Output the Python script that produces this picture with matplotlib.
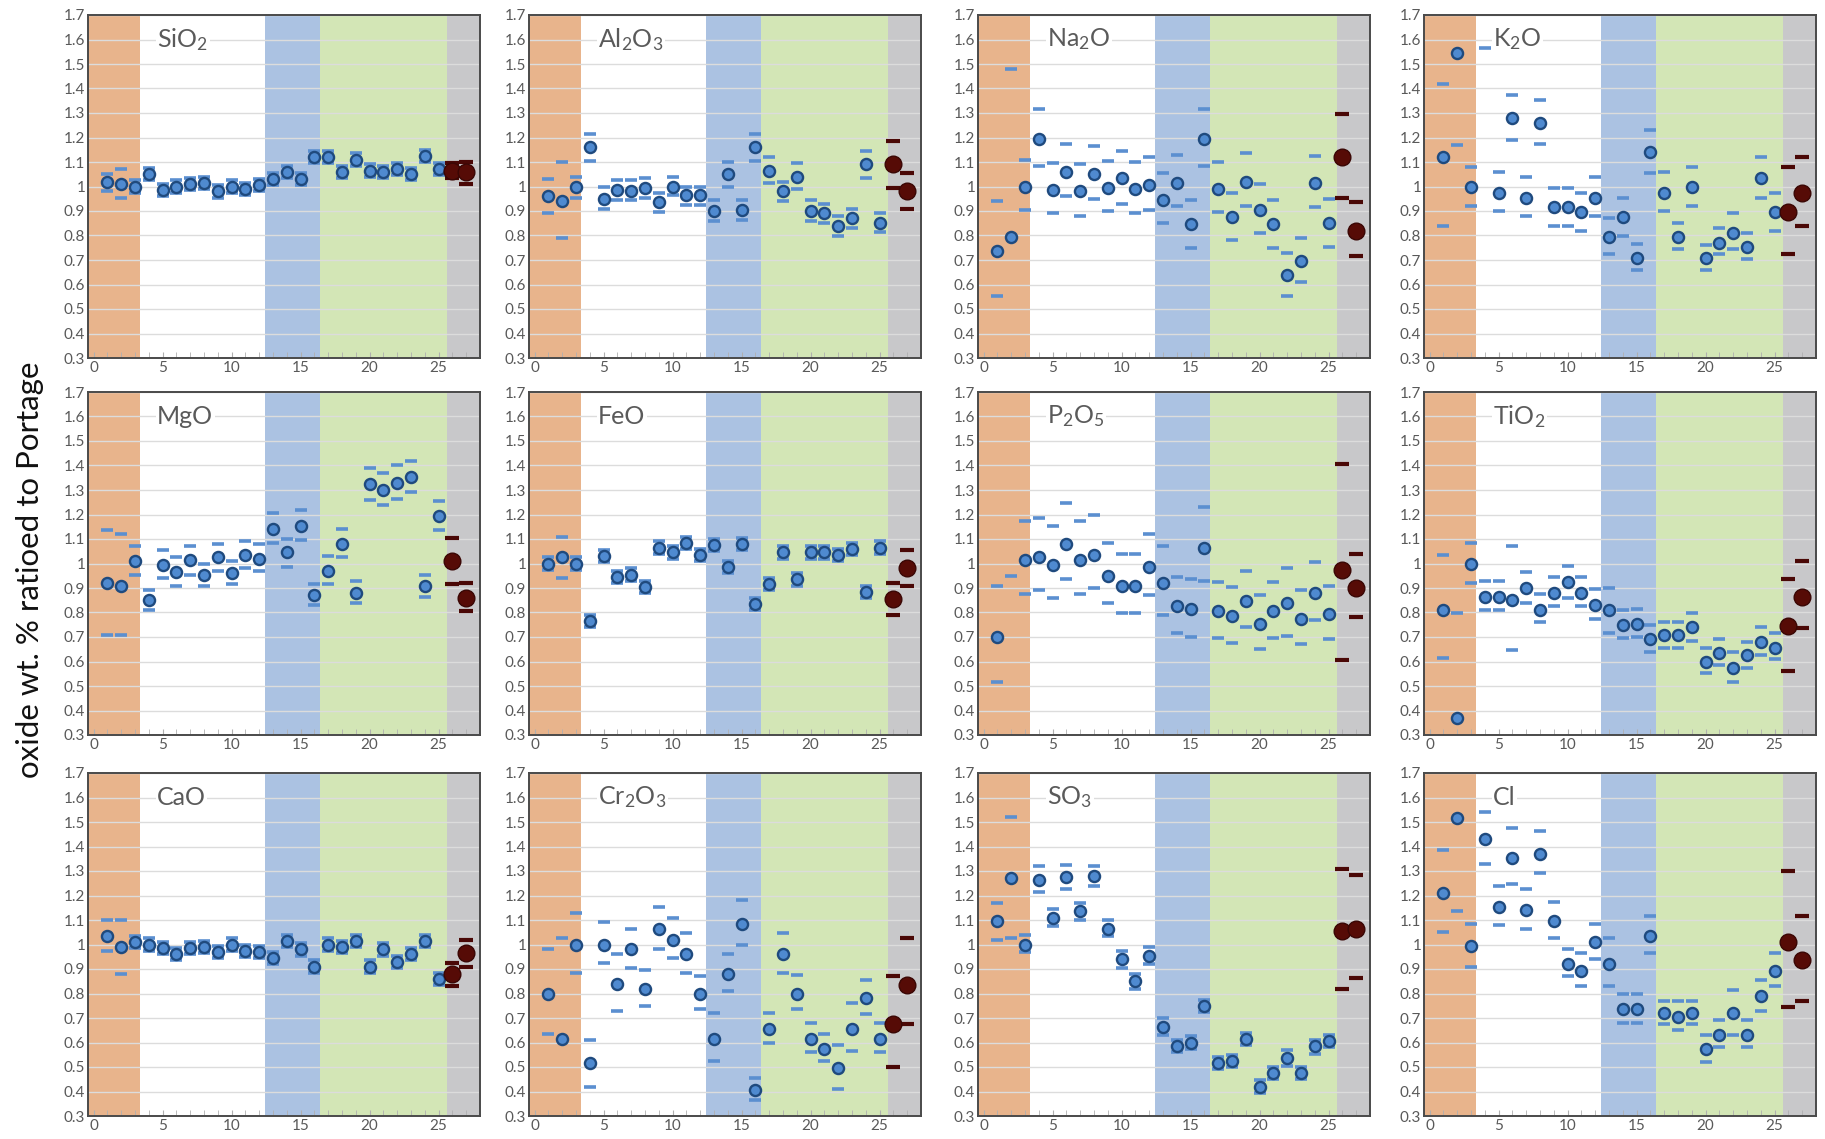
import numpy as np
import matplotlib
matplotlib.use("Agg")
import matplotlib.pyplot as plt
from matplotlib.ticker import FuncFormatter, MultipleLocator

# sample numbers 1..25 are blue, 26 and 27 are the dark red reference samples
SAMPLES = list(range(1, 28))

SIO2_VAL = [1.02, 1.01, 1.00, 1.05, 0.985, 1.00, 1.01, 1.015, 0.98, 1.00, 0.99, 1.005, 1.03, 1.06, 1.03,
            1.12, 1.12, 1.06, 1.11, 1.065, 1.06, 1.07, 1.05, 1.125, 1.07, 1.065, 1.06]
SIO2_HI = [1.05, 1.07, 1.025, 1.075, 1.01, 1.025, 1.035, 1.04, 1.005, 1.025, 1.015, 1.03, 1.055, 1.085, 1.055,
           1.145, 1.145, 1.085, 1.135, 1.09, 1.085, 1.095, 1.075, 1.15, 1.095, 1.095, 1.10]
SIO2_LO = [0.98, 0.955, 0.975, 1.025, 0.96, 0.975, 0.985, 0.99, 0.955, 0.975, 0.965, 0.98, 1.005, 1.035, 1.005,
           1.095, 1.095, 1.035, 1.085, 1.04, 1.035, 1.045, 1.025, 1.10, 1.045, 1.035, 1.01]

AL2O3_VAL = [0.96, 0.94, 1.0, 1.16, 0.95, 0.985, 0.98, 0.995, 0.935, 1.0, 0.965, 0.965, 0.90, 1.05, 0.905,
             1.16, 1.065, 0.98, 1.04, 0.90, 0.89, 0.84, 0.87, 1.09, 0.85, 1.09, 0.98]
AL2O3_HI = [1.03, 1.10, 1.04, 1.215, 1.0, 1.025, 1.025, 1.035, 0.975, 1.04, 1.0, 1.0, 0.945, 1.10, 0.945,
            1.215, 1.12, 1.02, 1.095, 0.945, 0.93, 0.88, 0.91, 1.145, 0.89, 1.185, 1.055]
AL2O3_LO = [0.89, 0.79, 0.955, 1.105, 0.91, 0.945, 0.945, 0.955, 0.895, 0.965, 0.925, 0.925, 0.86, 1.0, 0.865,
            1.105, 1.015, 0.94, 0.99, 0.86, 0.85, 0.80, 0.83, 1.035, 0.815, 0.995, 0.91]

NA2O_VAL = [0.735, 0.795, 1.0, 1.195, 0.985, 1.06, 0.98, 1.05, 0.995, 1.035, 0.99, 1.005, 0.945, 1.015, 0.845,
            1.195, 0.99, 0.875, 1.02, 0.905, 0.845, 0.64, 0.695, 1.015, 0.85, 1.12, 0.82]
NA2O_HI = [0.94, 1.48, 1.11, 1.315, 1.095, 1.175, 1.09, 1.165, 1.105, 1.145, 1.10, 1.12, 1.055, 1.13, 0.945,
           1.315, 1.10, 0.975, 1.135, 1.01, 0.945, 0.73, 0.79, 1.125, 0.95, 1.295, 0.935]
NA2O_LO = [0.555, None, 0.905, 1.085, 0.89, 0.96, 0.88, 0.95, 0.90, 0.93, 0.89, 0.905, 0.85, 0.92, 0.75,
           1.085, 0.895, 0.78, 0.92, 0.81, 0.75, 0.555, 0.61, 0.915, 0.755, 0.955, 0.715]

K2O_VAL = [1.12, 1.545, 1.0, None, 0.975, 1.28, 0.955, 1.26, 0.915, 0.915, 0.895, 0.955, 0.795, 0.875, 0.71,
           1.14, 0.975, 0.795, 1.0, 0.71, 0.77, 0.81, 0.755, 1.035, 0.895, 0.895, 0.975]
K2O_HI = [1.42, None, 1.08, 1.565, 1.06, 1.375, 1.04, 1.355, 0.995, 0.995, 0.975, 1.04, 0.87, 0.955, 0.765,
          1.23, 1.06, 0.85, 1.08, 0.76, 0.83, 0.89, 0.81, 1.12, 0.975, 1.08, 1.12]
K2O_LO = [0.84, 1.17, 0.92, None, 0.90, 1.19, 0.88, 1.175, 0.84, 0.84, 0.82, 0.88, 0.725, 0.80, 0.66,
          1.055, 0.90, 0.745, 0.92, 0.66, 0.725, 0.745, 0.705, 0.955, 0.82, 0.725, 0.84]

MGO_VAL = [0.92, 0.91, 1.01, 0.85, 0.995, 0.965, 1.015, 0.955, 1.025, 0.96, 1.035, 1.02, 1.14, 1.045, 1.155,
           0.87, 0.97, 1.08, 0.88, 1.325, 1.30, 1.33, 1.355, 0.91, 1.195, 1.01, 0.86]
MGO_HI = [1.135, 1.12, 1.07, 0.89, 1.055, 1.025, 1.07, 1.0, 1.08, 1.01, 1.09, 1.08, 1.205, 1.10, 1.22,
          0.915, 1.03, 1.14, 0.93, 1.39, 1.37, 1.40, 1.42, 0.955, 1.255, 1.105, 0.92]
MGO_LO = [0.71, 0.71, 0.955, 0.81, 0.94, 0.91, 0.955, 0.91, 0.97, 0.915, 0.98, 0.97, 1.085, 0.985, 1.095,
          0.83, 0.915, 1.025, 0.84, 1.26, 1.24, 1.265, 1.29, 0.865, 1.135, 0.915, 0.805]

FEO_VAL = [1.0, 1.025, 1.0, 0.765, 1.03, 0.945, 0.955, 0.905, 1.065, 1.045, 1.085, 1.035, 1.075, 0.985, 1.08,
           0.835, 0.915, 1.045, 0.935, 1.045, 1.045, 1.035, 1.06, 0.885, 1.065, 0.855, 0.98]
FEO_HI = [1.025, 1.11, 1.025, 0.79, 1.055, 0.97, 0.98, 0.93, 1.09, 1.07, 1.11, 1.06, 1.10, 1.01, 1.105,
          0.86, 0.94, 1.07, 0.96, 1.07, 1.07, 1.06, 1.085, 0.91, 1.09, 0.92, 1.055]
FEO_LO = [0.975, 0.94, 0.975, 0.74, 1.005, 0.92, 0.93, 0.88, 1.04, 1.02, 1.06, 1.01, 1.05, 0.96, 1.055,
          0.81, 0.89, 1.02, 0.91, 1.02, 1.02, 1.01, 1.035, 0.86, 1.04, 0.79, 0.91]

P2O5_VAL = [0.70, None, 1.015, 1.025, 0.995, 1.08, 1.015, 1.035, 0.95, 0.91, 0.91, 0.985, 0.92, 0.825, 0.815,
            1.065, 0.805, 0.785, 0.845, 0.755, 0.805, 0.84, 0.775, 0.88, 0.795, 0.975, 0.90]
P2O5_HI = [0.91, None, 1.175, 1.185, 1.155, 1.245, 1.175, 1.20, 1.085, 1.04, 1.04, 1.12, 1.07, 0.945, 0.935,
           1.23, 0.925, 0.905, 0.97, 0.87, 0.925, 0.98, 0.89, 1.005, 0.91, 1.405, 1.04]
P2O5_LO = [0.515, 0.95, 0.875, 0.89, 0.86, 0.935, 0.875, 0.90, 0.84, 0.80, 0.80, 0.87, 0.79, 0.715, 0.70,
           0.93, 0.695, 0.675, 0.74, 0.65, 0.695, 0.705, 0.67, 0.77, 0.69, 0.605, 0.78]

TIO2_VAL = [0.81, 0.37, 1.0, 0.865, 0.865, 0.85, 0.90, 0.81, 0.88, 0.925, 0.88, 0.83, 0.81, 0.75, 0.755,
            0.69, 0.71, 0.71, 0.74, 0.60, 0.635, 0.575, 0.625, 0.68, 0.655, 0.745, 0.865]
TIO2_HI = [1.035, 0.80, 1.085, 0.93, 0.93, 1.07, 0.965, 0.875, 0.945, 0.99, 0.945, 0.895, 0.90, 0.81, 0.815,
           0.75, 0.76, 0.76, 0.80, 0.655, 0.69, 0.64, 0.68, 0.74, 0.715, 0.935, 1.01]
TIO2_LO = [0.615, None, 0.92, 0.81, 0.81, 0.645, 0.84, 0.76, 0.825, 0.86, 0.825, 0.775, 0.715, 0.695, 0.70,
           0.64, 0.655, 0.655, 0.685, 0.555, 0.585, 0.515, 0.575, 0.625, 0.61, 0.56, 0.735]

CAO_VAL = [1.035, 0.99, 1.01, 1.0, 0.985, 0.96, 0.985, 0.99, 0.97, 1.0, 0.975, 0.97, 0.945, 1.015, 0.98,
           0.91, 1.0, 0.99, 1.015, 0.91, 0.98, 0.93, 0.96, 1.015, 0.86, 0.88, 0.965]
CAO_HI = [1.10, 1.10, 1.035, 1.025, 1.01, 0.985, 1.01, 1.015, 0.995, 1.025, 1.0, 0.995, 0.97, 1.04, 1.005,
          0.935, 1.025, 1.015, 1.04, 0.935, 1.005, 0.955, 0.985, 1.04, 0.885, 0.925, 1.02]
CAO_LO = [0.975, 0.88, 0.985, 0.975, 0.96, 0.935, 0.96, 0.965, 0.945, 0.975, 0.95, 0.945, 0.92, 0.99, 0.955,
          0.885, 0.975, 0.965, 0.99, 0.885, 0.955, 0.905, 0.935, 0.99, 0.835, 0.83, 0.91]

CR2O3_VAL = [0.80, 0.615, 1.0, 0.515, 1.0, 0.84, 0.98, 0.82, 1.065, 1.02, 0.96, 0.80, 0.615, 0.88, 1.085,
             0.405, 0.655, 0.96, 0.80, 0.615, 0.575, 0.495, 0.655, 0.78, 0.615, 0.675, 0.835]
CR2O3_HI = [0.98, 1.025, 1.13, 0.61, 1.09, 0.96, 1.065, 0.895, 1.155, 1.11, 1.045, 0.87, 0.72, 0.96, 1.18,
            0.455, 0.72, 1.045, 0.875, 0.68, 0.635, 0.59, 0.76, 0.855, 0.68, 0.87, 1.025]
CR2O3_LO = [0.635, None, 0.885, 0.42, 0.925, 0.73, 0.905, 0.75, 0.98, 0.945, 0.885, 0.735, 0.525, 0.81, 1.0,
            0.365, 0.60, 0.885, 0.735, 0.56, 0.525, 0.41, 0.565, 0.715, 0.56, 0.50, 0.675]

SO3_VAL = [1.095, 1.27, 1.0, 1.265, 1.11, 1.275, 1.135, 1.28, 1.065, 0.94, 0.85, 0.955, 0.665, 0.585, 0.60,
           0.75, 0.515, 0.525, 0.615, 0.42, 0.475, 0.535, 0.475, 0.585, 0.605, 1.055, 1.065]
SO3_HI = [1.17, 1.52, 1.04, 1.32, 1.145, 1.325, 1.17, 1.32, 1.10, 0.975, 0.88, 0.99, 0.70, 0.61, 0.625,
          0.775, 0.54, 0.55, 0.64, 0.445, 0.50, 0.57, 0.50, 0.61, 0.63, 1.31, 1.285]
SO3_LO = [1.02, 1.025, 0.97, 1.215, 1.075, 1.225, 1.10, 1.24, 1.035, 0.905, 0.82, 0.92, 0.63, 0.56, 0.575,
          0.725, 0.49, 0.50, 0.59, 0.395, 0.45, 0.505, 0.45, 0.555, 0.58, 0.82, 0.865]

CL_VAL = [1.21, 1.515, 0.995, 1.43, 1.155, 1.355, 1.14, 1.37, 1.095, 0.92, 0.89, 1.01, 0.92, 0.735, 0.735,
          1.035, 0.72, 0.705, 0.72, 0.575, 0.63, 0.72, 0.63, 0.79, 0.89, 1.01, 0.935]
CL_HI = [1.385, None, 1.085, 1.54, 1.24, 1.475, 1.225, 1.465, 1.175, 0.98, 0.965, 1.085, 1.025, 0.80, 0.80,
         1.115, 0.77, 0.77, 0.77, 0.63, 0.69, 0.815, 0.69, 0.855, 0.965, 1.30, 1.115]
CL_LO = [1.05, 1.135, 0.91, 1.33, 1.08, 1.245, 1.065, 1.29, 1.025, 0.87, 0.83, 0.94, 0.83, 0.68, 0.68,
         0.965, 0.675, 0.65, 0.675, 0.52, 0.58, 0.63, 0.58, 0.73, 0.83, 0.745, 0.77]

PANELS = [
    (r'SiO$_\mathregular{2}$', SIO2_VAL, SIO2_LO, SIO2_HI),
    (r'Al$_\mathregular{2}$O$_\mathregular{3}$', AL2O3_VAL, AL2O3_LO, AL2O3_HI),
    (r'Na$_\mathregular{2}$O', NA2O_VAL, NA2O_LO, NA2O_HI),
    (r'K$_\mathregular{2}$O', K2O_VAL, K2O_LO, K2O_HI),
    ('MgO', MGO_VAL, MGO_LO, MGO_HI),
    ('FeO', FEO_VAL, FEO_LO, FEO_HI),
    (r'P$_\mathregular{2}$O$_\mathregular{5}$', P2O5_VAL, P2O5_LO, P2O5_HI),
    (r'TiO$_\mathregular{2}$', TIO2_VAL, TIO2_LO, TIO2_HI),
    ('CaO', CAO_VAL, CAO_LO, CAO_HI),
    (r'Cr$_\mathregular{2}$O$_\mathregular{3}$', CR2O3_VAL, CR2O3_LO, CR2O3_HI),
    (r'SO$_\mathregular{3}$', SO3_VAL, SO3_LO, SO3_HI),
    ('Cl', CL_VAL, CL_LO, CL_HI),
]

# shaded sample groups: (start, end, colour)
BANDS = [(-0.4, 3.4, '#e8b48c'), (12.4, 16.4, '#abc2e2'),
         (16.4, 25.6, '#d3e6b6'), (25.6, 28.0, '#c8c8ca')]

plt.rcParams['font.family'] = ['Lato', 'DejaVu Sans']
plt.rcParams['mathtext.default'] = 'regular'

W, H = 1825, 1139
COL_LEFT = [88, 529, 978, 1424]
ROW_TOP = [15, 392, 773]
AX_W, AX_H = 392, 343

fig = plt.figure(figsize=(W / 100, H / 100), dpi=100)


def arr(v):
    return np.array([np.nan if a is None else a for a in v], dtype=float)


def draw_panel(ax, name, val, lo, hi):
    x = np.array(SAMPLES, dtype=float)
    val, lo, hi = arr(val), arr(lo), arr(hi)
    for x0, x1, c in BANDS:
        ax.axvspan(x0, x1, color=c, lw=0, zorder=0.2)
    ax.set_axisbelow(True)
    ax.yaxis.grid(True, color='#dcdcdc', lw=1.0)

    blue = x <= 25
    red = ~blue
    ax.plot(x[blue], lo[blue], ls='none', marker='_', ms=9, mew=2.6, color='#5b8fd0', zorder=3)
    ax.plot(x[blue], hi[blue], ls='none', marker='_', ms=9, mew=2.6, color='#5b8fd0', zorder=3)
    ax.plot(x[blue], val[blue], ls='none', marker='o', ms=8, mfc='#4f8ad0', mec='#1f4a7e', mew=1.7, zorder=4)
    ax.plot(x[red], lo[red], ls='none', marker='_', ms=10, mew=3, color='#4a0806', zorder=3)
    ax.plot(x[red], hi[red], ls='none', marker='_', ms=10, mew=3, color='#4a0806', zorder=3)
    ax.plot(x[red], val[red], ls='none', marker='o', ms=12, mfc='#560b06', mec='#3a0604', mew=1, zorder=4)

    ax.set_xlim(-0.4, 28)
    ax.set_ylim(0.3, 1.7)
    ax.yaxis.set_major_locator(MultipleLocator(0.1))
    ax.yaxis.set_major_formatter(FuncFormatter(lambda v, p: f'{round(v, 1):g}'))
    ax.xaxis.set_major_locator(MultipleLocator(5))
    ax.xaxis.set_minor_locator(MultipleLocator(1))
    ax.tick_params(axis='both', labelsize=11, labelcolor='#595959', pad=2)
    ax.tick_params(axis='y', length=0)
    ax.tick_params(axis='x', which='both', direction='in', color='#b0b0b0', length=4)
    for s in ax.spines.values():
        s.set_color('#4a4a4a')
        s.set_linewidth(1.4)

    ax.text(4.6, 1.6, name, fontsize=18, color='#5a5a5a', va='center', ha='left', zorder=5,
            bbox=dict(facecolor='white', edgecolor='none', pad=1))


for i, (name, val, lo, hi) in enumerate(PANELS):
    r, c = divmod(i, 4)
    left = COL_LEFT[c] / W
    bottom = 1 - (ROW_TOP[r] + AX_H) / H
    ax = fig.add_axes([left, bottom, AX_W / W, AX_H / H])
    draw_panel(ax, name, val, lo, hi)

fig.text(30 / W, 0.5, 'oxide wt. % ratioed to Portage', rotation=90, fontsize=22.5,
         va='center', ha='center', color='#111111')

fig.savefig('out.png', dpi=100, facecolor='white')
